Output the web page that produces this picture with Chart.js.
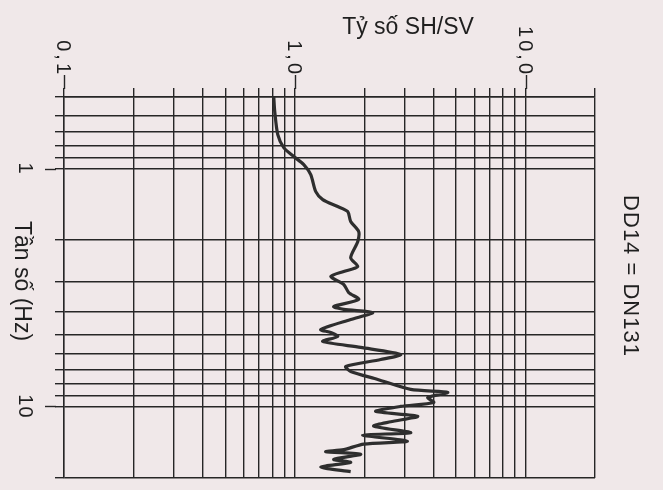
<!DOCTYPE html>
<html>
<head>
<meta charset="utf-8">
<script src="https://cdn.jsdelivr.net/npm/chart.js@4/dist/chart.umd.min.js"></script>
<style>
  html, body { margin: 0; padding: 0; background: #f0e8e9; }
  canvas { display: block; }
</style>
</head>
<body>
<canvas id="c" width="663" height="490"></canvas>
<script>
// ---- data ----
const freqHz = [0.50, 0.576, 0.72, 0.816, 0.89, 0.962, 1.06, 1.25, 1.35, 1.444, 1.516, 1.67, 1.84, 2.03,
  2.37, 2.58, 2.71, 2.84, 3.07, 3.32, 3.55, 3.80, 3.91, 4.03, 4.31, 4.75, 4.89, 5.08, 5.33, 5.65, 6.05,
  6.35, 6.79, 7.13, 7.70, 8.48, 8.73, 9.17, 9.62, 10.0, 10.5, 11.0, 11.6, 12.1, 12.9, 13.2, 14.0, 14.4,
  15.2, 15.5, 15.9, 16.7, 17.2, 18.0, 18.8];
const ratioSHSV = [0.811, 0.819, 0.844, 0.896, 0.99, 1.094, 1.173, 1.233, 1.322, 1.535, 1.696, 1.747, 1.892, 1.874,
  1.747, 1.874, 1.63, 1.432, 1.63, 1.713, 1.892, 1.475, 1.63, 2.176, 1.747, 1.296, 1.432, 1.535, 1.322, 1.931, 2.876,
  2.357, 1.663, 1.747, 2.287, 3.18, 4.60, 3.77, 4.00, 2.876, 2.242, 3.41, 2.604, 2.198, 3.18, 1.97, 3.08, 1.99,
  1.63, 1.362, 1.931, 1.475, 1.747, 1.296, 1.747];

const xGridValues = [0.1,0.2,0.3,0.4,0.5,0.6,0.7,0.8,0.9,1,2,3,4,5,6,7,8,9,10,20];
const yGridValues = [0.5,0.6,0.7,0.8,0.9,1,2,3,4,5,6,7,8,9,10,20];
const xLabelValues = [0.1, 1, 10];
const xLabelTexts = ['0,1', '1,0', '10,0'];
const yLabelValues = [1, 10];
const yLabelTexts = ['1', '10'];
const xTitle = 'Tỷ số SH/SV';
const yTitle = 'Tần số (Hz)';
const sideNote = 'DD14 = DN131';

const INK = '#262626';
const TEXT = '#1f1f1f';
const FONT = '"Liberation Sans", Arial, sans-serif';

const points = freqHz.map((f, i) => ({ x: ratioSHSV[i], y: f }));

const decor = {
  id: 'decor',
  beforeDraw(chart) {
    const c = chart.ctx;
    c.save();
    c.fillStyle = '#f0e8e9';
    c.fillRect(0, 0, chart.width, chart.height);
    c.restore();
  },
  afterDraw(chart) {
    const c = chart.ctx;
    const xs = chart.scales.x, ys = chart.scales.y, a = chart.chartArea;
    c.save();
    c.strokeStyle = INK;
    c.lineWidth = 1.4;
    // longer major tick marks
    xLabelValues.forEach(v => {
      const px = Math.round(xs.getPixelForValue(v)) + 0.5;
      c.beginPath(); c.moveTo(px, a.top - 8); c.lineTo(px, a.top - 22); c.stroke();
    });
    yLabelValues.forEach(v => {
      const py = Math.round(ys.getPixelForValue(v)) + 0.5;
      c.beginPath(); c.moveTo(a.left - 8, py); c.lineTo(a.left - 19, py); c.stroke();
    });
    c.fillStyle = TEXT;
    // x tick labels, rotated clockwise
    c.font = '20px ' + FONT;
    try { c.letterSpacing = '3px'; } catch (e) {}
    xLabelValues.forEach((v, i) => {
      const px = xs.getPixelForValue(v);
      c.save();
      c.translate(px - 1, 77);
      c.rotate(Math.PI / 2);
      c.textAlign = 'right';
      c.textBaseline = 'middle';
      c.fillText(xLabelTexts[i], 0, 0);
      c.restore();
    });
    try { c.letterSpacing = '1px'; } catch (e) {}
    yLabelValues.forEach((v, i) => {
      const py = ys.getPixelForValue(v);
      c.save();
      c.translate(25, py);
      c.rotate(Math.PI / 2);
      c.textAlign = 'center';
      c.textBaseline = 'middle';
      c.fillText(yLabelTexts[i], 0, 0);
      c.restore();
    });
    try { c.letterSpacing = '0px'; } catch (e) {}
    // titles
    c.font = '23px ' + FONT;
    c.textAlign = 'center';
    c.textBaseline = 'alphabetic';
    c.fillText(xTitle, 408, 34);
    c.save();
    c.translate(21, 281);
    c.rotate(Math.PI / 2);
    c.textBaseline = 'middle';
    c.fillText(yTitle, 0, 0);
    c.restore();
    c.save();
    c.font = '22px ' + FONT;
    try { c.letterSpacing = '1px'; } catch (e) {}
    c.translate(630, 276);
    c.rotate(Math.PI / 2);
    c.textAlign = 'center';
    c.textBaseline = 'middle';
    c.fillText(sideNote, 0, 0);
    c.restore();
    c.restore();
  }
};

new Chart(document.getElementById('c'), {
  type: 'scatter',
  data: {
    datasets: [{
      data: points,
      showLine: true,
      borderColor: '#2e2e2e',
      borderWidth: 3.2,
      pointRadius: 0,
      tension: 0.25,
      fill: false
    }]
  },
  options: {
    responsive: false,
    animation: false,
    devicePixelRatio: 1,
    layout: { padding: { left: 49, top: 82, right: 68, bottom: 12 } },
    plugins: { legend: { display: false }, tooltip: { enabled: false }, title: { display: false } },
    scales: {
      x: {
        type: 'logarithmic',
        position: 'top',
        min: 0.1,
        max: 20,
        afterBuildTicks: s => { s.ticks = xGridValues.map(v => ({ value: v })); },
        afterFit: s => { s.height = 15; },
        ticks: { display: false },
        grid: { color: INK, lineWidth: 1.4, tickLength: 9, drawTicks: true },
        border: { display: true, color: INK, width: 1.4 }
      },
      y: {
        type: 'logarithmic',
        reverse: true,
        min: 0.5,
        max: 20,
        afterBuildTicks: s => { s.ticks = yGridValues.map(v => ({ value: v })); },
        afterFit: s => { s.width = 15; },
        ticks: { display: false },
        grid: { color: INK, lineWidth: 1.4, tickLength: 9, drawTicks: true },
        border: { display: true, color: INK, width: 1.4 }
      }
    }
  },
  plugins: [decor]
});
</script>
</body>
</html>
